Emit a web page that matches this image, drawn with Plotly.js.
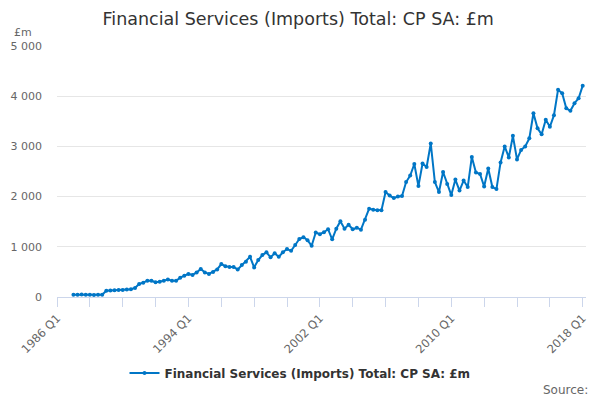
<!DOCTYPE html>
<html>
<head>
<meta charset="utf-8">
<script src="https://cdn.plot.ly/plotly-3.0.1.min.js"></script>
<style>
  html, body { margin: 0; padding: 0; background: #fff; }
  #chart { width: 600px; height: 400px; }
</style>
</head>
<body>
<div id="chart"></div>
<script>
// quarterly categories 1986 Q1 .. 2018 Q1
const firstYear = 1986;
const lastYear = 2018;
const quarters = [];
for (let y = firstYear; y <= lastYear; y++) {
  for (let q = 1; q <= 4; q++) {
    if (y === lastYear && q > 1) break;
    quarters.push(y + ' Q' + q);
  }
}

// £m, series begins 1987 Q1
const imports = [
  null, null, null, null,
  45, 45, 48, 46, 44, 42, 44, 47,
  125, 130, 135, 140, 140, 150, 155, 180,
  260, 285, 325, 325,
  295, 305, 325, 350, 325, 325, 385, 425,
  460, 440, 490, 560, 490, 460, 500, 550,
  655, 615, 600, 600, 550, 635, 700, 800,
  590, 735, 835, 890, 790, 870, 800, 890,
  955, 920, 1035, 1155, 1190, 1130, 1020, 1285,
  1250, 1290, 1350, 1150, 1360, 1510, 1360, 1440,
  1350, 1380, 1340, 1540, 1760, 1740, 1730, 1730,
  2090, 2020, 1970, 2000, 2010, 2290, 2420, 2650,
  2210, 2660, 2590, 3060, 2290, 2090, 2490, 2250,
  2030, 2340, 2120, 2320, 2190, 2790, 2480, 2450,
  2200, 2560, 2190, 2150, 2680, 3000, 2780, 3210,
  2740, 2930, 3000, 3160, 3660, 3360, 3240, 3530,
  3390, 3620, 4130, 4060, 3760, 3710, 3860, 3960,
  4210
];

const seriesName = 'Financial Services (Imports) Total: CP SA: £m';
const yTicks = [0, 1000, 2000, 3000, 4000, 5000];

// tick mark every 2 years, label every 8 years
const xTickVals = quarters.filter((q, i) => i % 8 === 0);
const xTickText = quarters.map((q, i) => (i % 32 === 0 ? q : '')).filter((q, i) => i % 8 === 0);

const blue = '#0076c6';
const font = 'DejaVu Sans, sans-serif';

const trace = {
  x: quarters,
  y: imports,
  type: 'scatter',
  mode: 'lines+markers',
  name: seriesName,
  line: {color: blue, width: 2},
  marker: {color: blue, size: 4},
  connectgaps: false,
  hoverinfo: 'x+y'
};

const layout = {
  width: 600,
  height: 400,
  margin: {l: 57, r: 14, t: 46, b: 103},
  paper_bgcolor: '#fff',
  plot_bgcolor: '#fff',
  separators: '. ',
  font: {family: font, color: '#666', size: 11},
  title: {
    text: seriesName,
    font: {family: font, size: 17.5, color: '#333'},
    x: 0.497, xref: 'container', xanchor: 'center',
    y: 1 - 19 / 400, yref: 'container', yanchor: 'middle'
  },
  xaxis: {
    type: 'category',
    range: [0, 128.8],
    tickmode: 'array',
    tickvals: xTickVals,
    ticktext: xTickText,
    tickangle: -45,
    ticks: 'outside',
    ticklen: 9,
    tickcolor: '#ccd6eb',
    tickwidth: 1,
    showline: true,
    linecolor: '#ccd6eb',
    linewidth: 1,
    showgrid: false,
    zeroline: false,
    tickfont: {family: font, size: 11.5, color: '#666'}
  },
  yaxis: {
    range: [0, 5000],
    tickmode: 'array',
    tickvals: yTicks,
    tickformat: ',d',
    showgrid: true,
    gridcolor: '#e6e6e6',
    zeroline: false,
    showline: false,
    ticks: '',
    ticklabelstandoff: 14,
    tickfont: {family: font, size: 11, color: '#666'}
  },
  showlegend: true,
  legend: {
    orientation: 'h',
    xref: 'container', x: 0.5, xanchor: 'center',
    yref: 'container', y: 1 - 373 / 400, yanchor: 'middle',
    font: {family: font, size: 12, color: '#333', weight: 'bold'},
    itemwidth: 30
  },
  annotations: [
    {
      text: '£m',
      xref: 'paper', yref: 'paper',
      x: -45 / 529, y: (297 - 32) / 251,
      xanchor: 'left', yanchor: 'middle',
      showarrow: false,
      font: {family: font, size: 11, color: '#666'}
    },
    {
      text: 'Source:',
      xref: 'paper', yref: 'paper',
      x: 1.008, y: (297 - 390) / 251,
      xanchor: 'right', yanchor: 'middle',
      showarrow: false,
      font: {family: font, size: 12, color: '#666'}
    }
  ]
};

Plotly.newPlot('chart', [trace], layout, {displayModeBar: false, staticPlot: true});
</script>
</body>
</html>
